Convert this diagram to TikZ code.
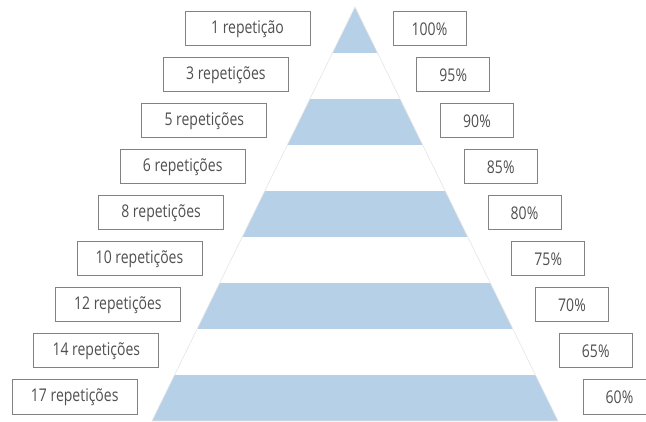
\documentclass[tikz,border=0pt]{standalone}
\usepackage{fontspec}
\setmainfont[FakeStretch=0.8]{Open Sans}
\definecolor{bandblue}{RGB}{182,208,232}
\definecolor{boxline}{RGB}{130,130,130}
\definecolor{txt}{RGB}{80,80,80}
\tikzset{
  lbox/.style={draw=boxline, line width=1pt, fill=white, minimum width=125pt, minimum height=34pt, inner sep=0pt, text=txt, font=\fontsize{17.5}{19}\selectfont},
  rbox/.style={lbox, minimum width=73pt},
}
\begin{document}
\begin{tikzpicture}[x=1pt,y=-1pt]
\useasboundingbox (0,0) rectangle (646,422);
\fill[white] (0,0) rectangle (646,422);
\begin{scope}
  \clip (355,7) -- (558,421) -- (152,421) -- cycle;
  \foreach \k in {0,2,4,6,8} {
    \fill[bandblue] (100,7+46*\k) rectangle (600,53+46*\k);
  }
\end{scope}
\draw[gray!20, line width=0.6pt] (355,7) -- (558,421) -- (152,421) -- cycle;
\foreach \lab [count=\i from 0] in {1 repetição,3 repetições,5 repetições,6 repetições,8 repetições,10 repetições,12 repetições,14 repetições,17 repetições} {
  \node[lbox] (l\i) at (247.5-21.6*\i, 29+46*\i) {\lab};
}
\foreach \lab [count=\i from 0] in {100\%,95\%,90\%,85\%,80\%,75\%,70\%,65\%,60\%} {
  \node[rbox] (r\i) at (429.5+23.75*\i, 29+46*\i) {\lab};
}
\end{tikzpicture}
\end{document}
